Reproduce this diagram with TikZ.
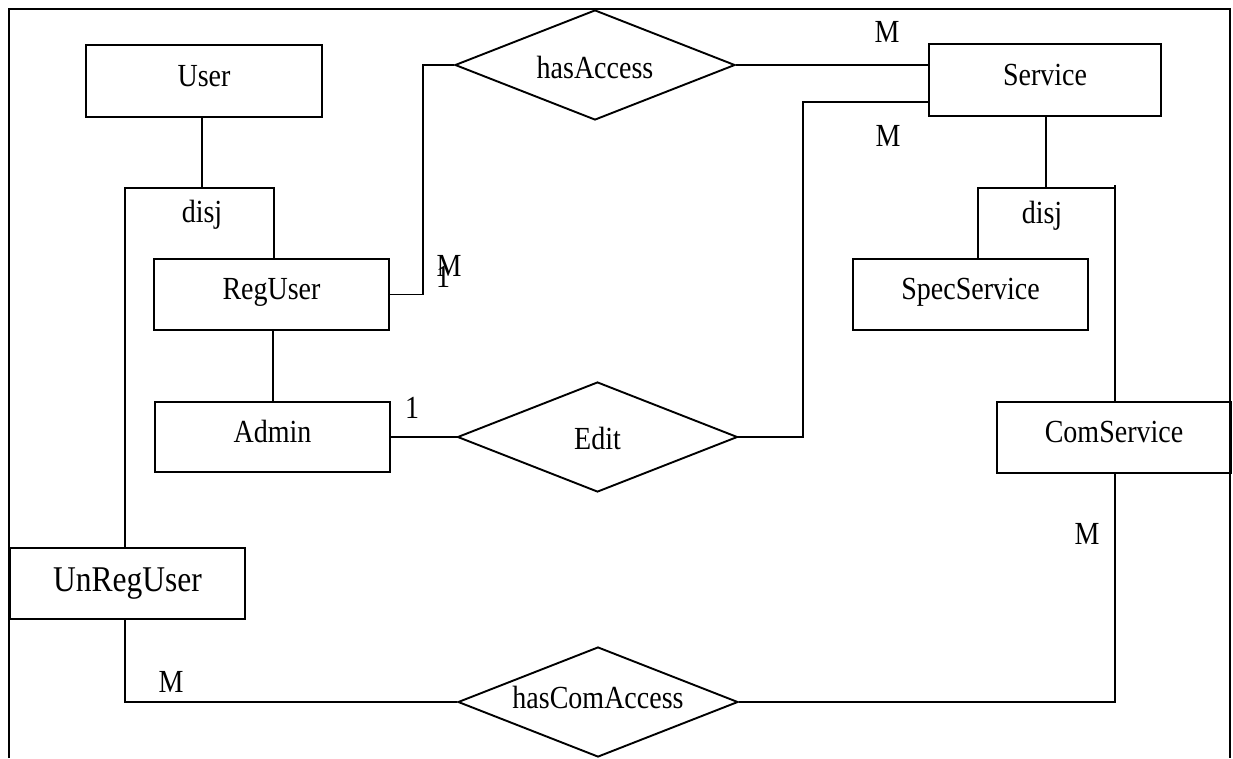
\documentclass[tikz,border=0pt]{standalone}
\usepackage{fontspec}
\setmainfont{Liberation Serif}
\usetikzlibrary{shapes.geometric}
% text is set slightly taller than wide
\newcommand\vtext[1]{\scalebox{1}[1.15]{#1}}
\begin{document}
\begin{tikzpicture}[x=1pt,y=-1pt,
  line width=1.9pt, line join=miter,
  basefont/.style={font=\fontsize{28}{30}\selectfont},
  entity/.style={draw, rectangle, inner sep=0pt, basefont,
    text height=20pt, text depth=9.7pt},
  relation/.style={draw, diamond, aspect=2.5, inner sep=0pt, basefont,
    minimum width=280pt, minimum height=110pt},
  card/.style={anchor=base, inner sep=0pt, basefont},
  frame/.style={line width=2.3pt}]
\useasboundingbox (0,0) rectangle (1233,758);

% outer frame (open at the bottom)
\draw[frame] (9,758) -- (9,9) -- (1230,9) -- (1230,758);

% entities
\node[entity, minimum width=236pt, minimum height=72pt] (User) at (204,81) {\vtext{User}};
\node[entity, minimum width=235pt, minimum height=71pt] (RegUser) at (271.5,294.5) {\vtext{RegUser}};
\node[entity, minimum width=235pt, minimum height=70pt] (Admin) at (272.5,437) {\vtext{Admin}};
\node[entity, minimum width=235pt, minimum height=71pt, font=\fontsize{31.5}{33}\selectfont,
  text height=22pt, text depth=7pt] (UnRegUser) at (127.5,583.5) {\vtext{UnRegUser}};
\node[entity, minimum width=232pt, minimum height=72pt] (Service) at (1045,80) {\vtext{Service}};
\node[entity, minimum width=235pt, minimum height=71pt] (SpecService) at (970.5,294.5) {\vtext{SpecService}};
\node[entity, minimum width=234pt, minimum height=71pt] (ComService) at (1114,437.5) {\vtext{ComService}};

% relationships
\node[relation, text height=30pt, text depth=3pt] (hasAccess) at (595,65) {\vtext{hasAccess}};
\node[relation, text height=28pt, text depth=4pt] (Edit) at (597.5,437) {\vtext{Edit}};
\node[relation, text height=22pt, text depth=10pt] (hasComAccess) at (598,702) {\vtext{hasComAccess}};

% disjoint specialisation of User
\coordinate (uL) at (125,188);
\coordinate (uR) at (274,188);
\draw (User.south -| 202,0) -- (202,188);
\draw (UnRegUser.north -| uL) -- (uL) -- (uR) -- (RegUser.north -| uR);
\node[card] (disjU) at (202,222) {\vtext{disj}};

% disjoint specialisation of Service
\coordinate (sL) at (978,188);
\coordinate (sR) at (1115,188);
\draw (Service.south -| 1046,0) -- (1046,188);
\draw (SpecService.north -| sL) -- (sL) -- (sR);
\draw (1115,185) -- (ComService.north -| sR);
\node[card] (disjS) at (1042,223) {\vtext{disj}};

% RegUser is-a Admin link
\draw (Admin.north -| 273,0) -- (RegUser.south -| 273,0);

% hasAccess
\coordinate (raBend) at (423,294.5);
\draw (RegUser.east) -- (raBend) |- (hasAccess.west);
\draw (hasAccess.east) -- (hasAccess.east -| Service.west);

% Edit
\coordinate (edBend) at (803,102);
\draw (Admin.east) -- (Edit.west);
\draw (Edit.east) -| (edBend) -- (edBend -| Service.west);

% hasComAccess
\coordinate (hcL) at (125,702);
\coordinate (hcR) at (1115,702);
\draw (UnRegUser.south -| hcL) -- (hcL) -- (hasComAccess.west);
\draw (ComService.south -| hcR) -- (hcR) -- (hasComAccess.east);

% cardinalities
\node[card] (cSa) at (887,42) {\vtext{M}};
\node[card] (cSe) at (888,146) {\vtext{M}};
\node[card] (cRa1) at (443,287) {\vtext{1}};
\node[card] (cRa) at (449,276) {\vtext{M}};
\node[card] (cAe) at (412,418) {\vtext{1}};
\node[card] (cCs) at (1087,544) {\vtext{M}};
\node[card] (cUr) at (171,692) {\vtext{M}};
\end{tikzpicture}
\end{document}
